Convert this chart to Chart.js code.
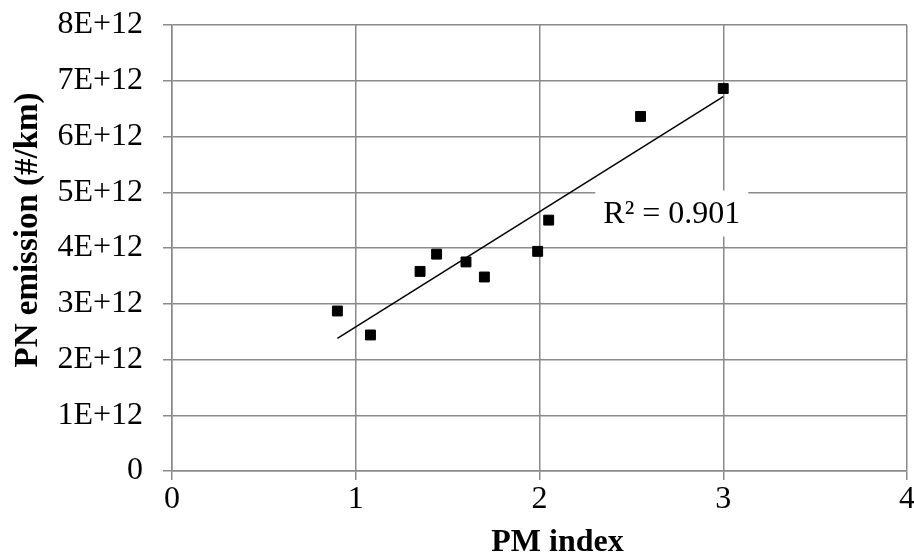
<!DOCTYPE html>
<html>
<head>
<meta charset="utf-8">
<script src="https://cdn.jsdelivr.net/npm/chart.js@4/dist/chart.umd.min.js"></script>
<style>
  html, body { margin: 0; padding: 0; background: #fff; overflow: hidden; }
  #wrap { width: 930px; height: 553px; }
</style>
</head>
<body>
<div id="wrap"><canvas id="chart" width="930" height="553"></canvas></div>
<script>
  // PM index vs PN emission
  const pmIndex = [0.90, 1.08, 1.35, 1.44, 1.60, 1.70, 1.99, 2.05, 2.55, 3.00];
  const pnEmission = [2.87e12, 2.44e12, 3.58e12, 3.89e12, 3.75e12, 3.48e12, 3.94e12, 4.50e12, 6.36e12, 6.86e12];
  const xTickLabels = ['0', '1', '2', '3', '4'];
  const yTickLabels = ['0', '1E+12', '2E+12', '3E+12', '4E+12', '5E+12', '6E+12', '7E+12', '8E+12'];
  const xTitle = 'PM index';
  const yTitle = 'PN emission (#/km)';
  const r2Label = 'R² = 0.901';

  const FONT = "'Liberation Serif', 'Times New Roman', serif";
  const GRID = '#8a8a8a';

  // linear trendline (least squares) over the points
  function trend(xs, ys) {
    const n = xs.length;
    const mx = xs.reduce((a, b) => a + b, 0) / n;
    const my = ys.reduce((a, b) => a + b, 0) / n;
    let sxy = 0, sxx = 0;
    xs.forEach((x, i) => { sxy += (x - mx) * (ys[i] - my); sxx += (x - mx) * (x - mx); });
    const b = sxy / sxx, a = my - b * mx;
    const x0 = Math.min(...xs), x1 = Math.max(...xs);
    return [{ x: x0, y: a + b * x0 }, { x: x1, y: a + b * x1 }];
  }

  // R² box and the two axis titles (placed like the Excel original, a bit off-centre)
  const labelsPlugin = {
    id: 'labels',
    afterDatasetsDraw(chart) {
      const ctx = chart.ctx;
      const area = chart.chartArea;
      const x = chart.scales.x.getPixelForValue(2.72);
      const y = chart.scales.y.getPixelForValue(4.6e12);
      ctx.save();
      ctx.font = '32px ' + FONT;
      const w = ctx.measureText(r2Label).width;
      ctx.fillStyle = '#fff';
      ctx.fillRect(x - w / 2 - 8, y - 24, w + 16, 46);
      ctx.fillStyle = '#000';
      ctx.textAlign = 'center';
      ctx.textBaseline = 'middle';
      ctx.fillText(r2Label, x, y);

      ctx.textBaseline = 'alphabetic';
      ctx.font = 'bold 32px ' + FONT;
      ctx.fillText(xTitle, (area.left + area.right) / 2 + 18, 551);

      ctx.font = 'bold 33px ' + FONT;
      ctx.translate(37, 230);
      ctx.rotate(-Math.PI / 2);
      ctx.fillText(yTitle, 0, 0);
      ctx.restore();
    }
  };

  new Chart(document.getElementById('chart').getContext('2d'), {
    type: 'scatter',
    data: {
      datasets: [
        {
          label: 'PN',
          data: pmIndex.map((x, i) => ({ x: x, y: pnEmission[i] })),
          pointStyle: 'rect',
          pointRadius: 7,
          borderWidth: 1,
          backgroundColor: '#000',
          borderColor: '#000'
        },
        {
          label: 'trend',
          type: 'line',
          data: trend(pmIndex, pnEmission),
          borderColor: '#000',
          borderWidth: 1.5,
          pointRadius: 0,
          fill: false
        }
      ]
    },
    options: {
      responsive: false,
      animation: false,
      layout: { padding: { left: 0, right: 23, top: 25, bottom: 0 } },
      plugins: { legend: { display: false }, tooltip: { enabled: false } },
      scales: {
        x: {
          type: 'linear', min: 0, max: 4,
          afterFit: (s) => { s.height = 82; },
          grid: { color: GRID, lineWidth: 1.5, tickLength: 9 },
          border: { color: GRID, width: 1.5 },
          ticks: {
            stepSize: 1, color: '#000', padding: 0,
            font: { family: FONT, size: 32 },
            callback: (v) => xTickLabels[v]
          }
        },
        y: {
          min: 0, max: 8e12,
          afterFit: (s) => { s.width = 172; s.paddingTop = 0; s.paddingBottom = 0; },
          grid: { color: GRID, lineWidth: 1.5, tickLength: 9 },
          border: { color: GRID, width: 1.5 },
          ticks: {
            stepSize: 1e12, color: '#000', padding: 20,
            font: { family: FONT, size: 32 },
            callback: (v) => yTickLabels[Math.round(v / 1e12)]
          }
        }
      }
    },
    plugins: [labelsPlugin]
  });
</script>
</body>
</html>
